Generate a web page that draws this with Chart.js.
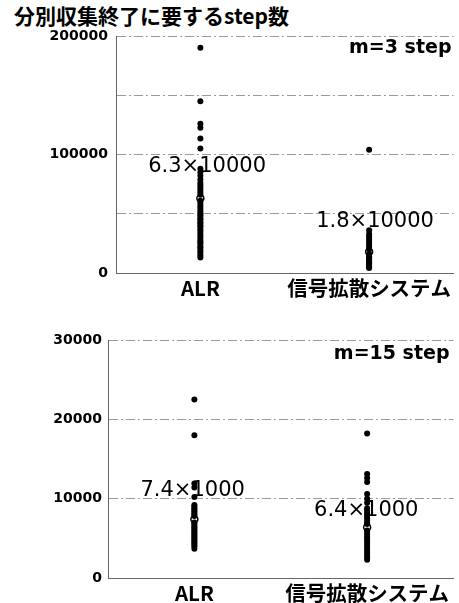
<!DOCTYPE html>
<html>
<head>
<meta charset="utf-8">
<script src="https://cdn.jsdelivr.net/npm/chart.js@4"></script>
<style>
body { margin: 0; background: #fff; width: 459px; height: 603px; position: relative; overflow: hidden; }
#title { position: absolute; left: 14px; top: 3px; font: bold 21px 'Noto Sans CJK JP'; line-height: 24px; white-space: nowrap; color: #000; }
.box { position: absolute; left: 0; width: 459px; }
</style>
</head>
<body>
<div id="title">分別収集終了に要するstep数</div>
<div class="box" style="top:0;height:300px"><canvas id="top-chart" width="459" height="300"></canvas></div>
<div class="box" style="top:300px;height:303px"><canvas id="bottom-chart" width="459" height="303"></canvas></div>
<script>
// カテゴリ
const categories = ['ALR', '信号拡散システム'];

// m=3 step の試行ごとの step 数
const alrM3 = [190000, 145000, 126000, 122500, 113500, 105000,
  88000, 85000, 82000, 79000, 76000, 74000, 72000, 70000, 68000, 66000,
  61000, 59000, 57000, 55000, 53000, 51000, 49000, 48000, 46000, 45000,
  43000, 42000, 40000, 39000, 37000, 35000, 33000, 31000, 29000, 27000,
  26000, 24000, 22000, 21000, 19000, 17000, 15000, 13000];
const signalM3 = [104000, 36000, 33000, 31000, 29000, 27000, 25000, 23000,
  21000, 20000, 16000, 14000, 13000, 12000, 11000, 10000, 9000, 8000,
  7000, 6000, 5000, 4200];
const meanM3 = [63000, 18000];

// m=15 step
const alrM15 = [22500, 18000, 11900, 11400, 10200, 9200, 9000, 8800, 8600,
  8400, 8200, 8000, 7800, 7000, 6800, 6600, 6400, 6200, 6000, 5800, 5600,
  5400, 5200, 5000, 4800, 4600, 4400, 4200, 4000, 3700];
const signalM15 = [18200, 13100, 12600, 12100, 10600, 10000, 9500, 8800,
  8500, 8200, 7900, 7600, 7300, 7000, 6800, 6000, 5800, 5500, 5200, 5000,
  4700, 4400, 4100, 3800, 3500, 3200, 2900, 2600, 2300];
const meanM15 = [7400, 6400];

// 平均値のラベル
const noteM3 = ['6.3×10000', '1.8×10000'];
const noteM3Y = [90000, 43000];
const noteM15 = ['7.4×1000', '6.4×1000'];
const noteM15Y = [11000, 8450];

const yTicksM3 = [0, 100000, 200000];
const yTicksM15 = [0, 10000, 20000, 30000];

const gridColor = '#9a9a9a';

// 注記を描くプラグイン
const notePlugin = {
  id: 'notes',
  afterDatasetsDraw(chart, args, opts) {
    const {ctx, chartArea, scales} = chart;
    ctx.save();
    ctx.fillStyle = '#000';
    ctx.font = '21px "DejaVu Sans"';
    ctx.textAlign = 'center';
    ctx.textBaseline = 'middle';
    opts.texts.forEach((t, i) => {
      const x = scales.x.getPixelForValue(2 * i + 1 + opts.dx[i]);
      const y = scales.y.getPixelForValue(opts.ys[i]);
      ctx.fillText(t, x, y);
    });
    ctx.font = 'bold 19px "DejaVu Sans"';
    ctx.textAlign = 'right';
    ctx.fillText(opts.corner, chartArea.right - opts.cornerDx, chartArea.top + opts.cornerDy);
    ctx.restore();
  }
};

function drawStripChart(targetId, series, means, cfg) {
  const datasets = series.map((values, i) => ({
    data: values.map(v => ({x: 2 * i + 1, y: v})),
    backgroundColor: '#000',
    borderColor: '#000',
    pointRadius: 3,
    borderWidth: 0
  }));
  datasets.push({
    data: means.map((v, i) => ({x: 2 * i + 1, y: v})),
    backgroundColor: '#fff',
    borderColor: '#000',
    pointRadius: 3.5,
    borderWidth: 1.5
  });

  new Chart(document.getElementById(targetId), {
    type: 'scatter',
    data: {datasets},
    plugins: [notePlugin],
    options: {
      responsive: false,
      animation: false,
      layout: {padding: {top: cfg.top, right: 4, left: 0, bottom: 0}},
      plugins: {
        legend: {display: false},
        tooltip: {enabled: false},
        notes: cfg.notes
      },
      scales: {
        x: {
          min: 0, max: 4,
          afterFit(scale) { scale.height = cfg.xHeight; },
          grid: {display: false, drawTicks: false},
          border: {display: true, color: '#666', width: 1},
          ticks: {
            stepSize: 1, autoSkip: false, maxRotation: 0, padding: 3,
            color: '#000',
            font: {family: 'Noto Sans CJK JP', size: 20.5, weight: 'bold'},
            callback: v => (v % 2 === 1 ? categories[(v - 1) / 2] : '')
          }
        },
        y: {
          min: 0, max: cfg.max,
          afterFit(scale) { scale.width = cfg.yWidth; },
          grid: {color: gridColor, lineWidth: 1, drawTicks: false},
          border: {display: true, color: '#666', width: 1, dash: [9, 3, 2, 3]},
          ticks: {
            stepSize: cfg.step, padding: cfg.yPad, color: '#000',
            font: {family: 'DejaVu Sans', size: 14, weight: 'bold'},
            callback: v => (cfg.labels.includes(v) ? String(v) : '')
          }
        }
      }
    }
  });
}

window.addEventListener('DOMContentLoaded', function() {
  drawStripChart('top-chart', [alrM3, signalM3], meanM3, {
    top: 36, xHeight: 27, yWidth: 116, yPad: 8, max: 200000, step: 50000,
    labels: yTicksM3,
    notes: {texts: noteM3, ys: noteM3Y, dx: [0.08, 0.07], corner: 'm=3 step', cornerDx: 2, cornerDy: 12}
  });
  drawStripChart('bottom-chart', [alrM15, signalM15], meanM15, {
    top: 40, xHeight: 25, yWidth: 108, yPad: 6, max: 30000, step: 10000,
    labels: yTicksM15,
    notes: {texts: noteM15, ys: noteM15Y, dx: [-0.02, -0.01], corner: 'm=15 step', cornerDx: 4, cornerDy: 14}
  });
});
</script>
</body>
</html>
